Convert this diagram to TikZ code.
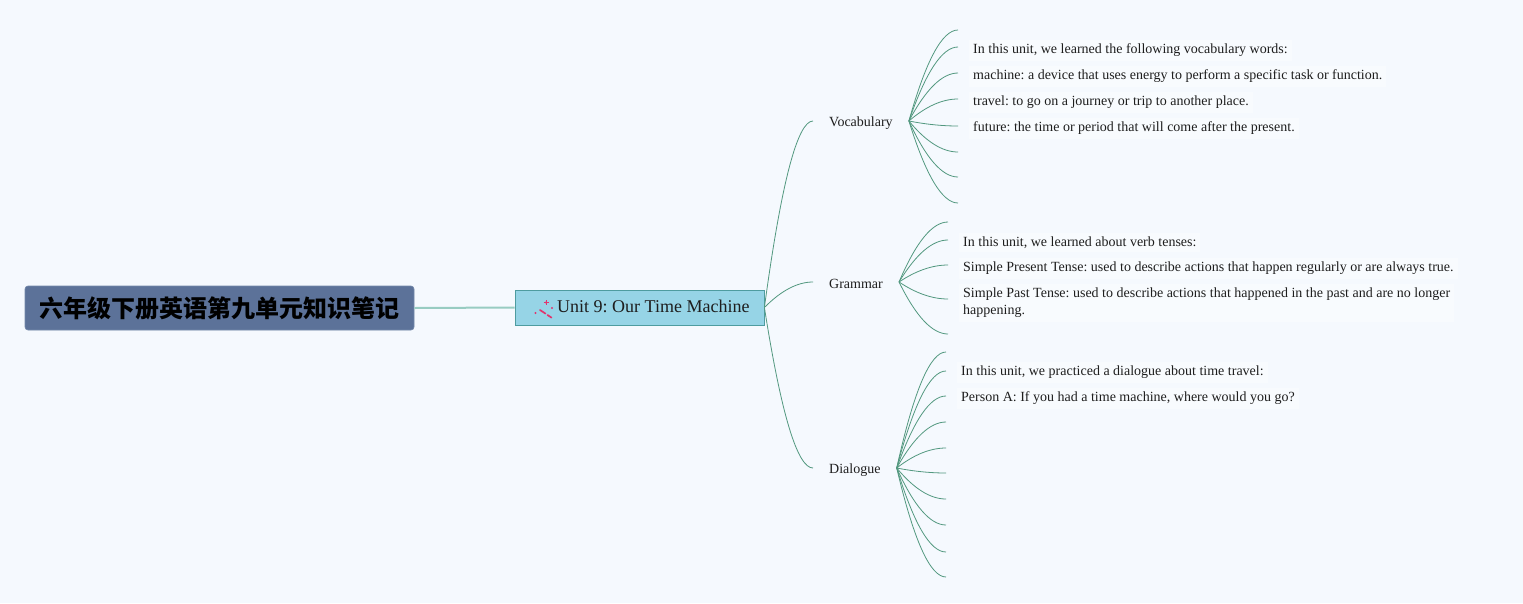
\documentclass[tikz,border=0pt]{standalone}
\usepackage{fontspec}
\setmainfont{Liberation Serif}
\newfontfamily\cjkfont{Noto Sans CJK SC}
\usetikzlibrary{calc}
\frenchspacing
\definecolor{bg}{HTML}{F5F9FE}
\definecolor{rootc}{HTML}{5C7299}
\definecolor{rootb}{HTML}{7489AA}
\definecolor{unitc}{HTML}{96D4E6}
\definecolor{unitb}{HTML}{4E9CA0}
\definecolor{trunkc}{HTML}{98CCC2}
\definecolor{linkc}{HTML}{52987F}
\definecolor{wandc}{HTML}{E0356E}
\definecolor{txt}{HTML}{1E1E1E}
\newcommand\mmlink[2]{%
  \draw[branch] let \p1=(#1), \p2=(#2) in
    (\p1) .. controls ({\x1+0.347*(\x2-\x1)},{\y1+0.667*(\y2-\y1)})
             and ({\x2-0.32*(\x2-\x1)},{\y2}) .. (\p2);}
\tikzset{
  rootbox/.style={fill=rootc, draw=rootb, line width=0.6pt, rounded corners=3pt,
    minimum width=389pt, minimum height=44pt, inner sep=0pt, text=black,
    font=\cjkfont\bfseries\fontsize{24}{24}\selectfont},
  unitbox/.style={fill=unitc, draw=unitb, line width=0.8pt,
    minimum width=249pt, minimum height=35pt, inner sep=0pt},
  unittext/.style={inner sep=0pt, text=txt, font=\fontsize{18}{18}\selectfont},
  lvtwo/.style={inner xsep=16pt, inner ysep=2pt, text=txt, font=\fontsize{14}{14}\selectfont},
  lvlabel/.style={inner sep=0pt, text=txt, font=\fontsize{14}{14}\selectfont},
  leaf/.style={inner xsep=4pt, inner ysep=4pt, text=txt, fill=white, fill opacity=0.35,
    text opacity=1, font=\fontsize{14}{17}\selectfont, align=left},
  trunk/.style={draw=trunkc, line width=2pt},
  branch/.style={draw=linkc, line width=0.8pt},
  wand/.style={draw=wandc, line width=1.7pt, line cap=round}
}
\begin{document}
\begin{tikzpicture}[x=1pt,y=-1pt]
\fill[bg] (0,0) rectangle (1523,603);
\useasboundingbox (0,0) rectangle (1523,603);

% root and unit
\node[rootbox] (root) at (219.5,308) {六年级下册英语第九单元知识笔记};
\node[unitbox] (unit) at (639.5,307.5) {};
\node[unittext, anchor=west] (unitlabel) at (557,306) {Unit 9: Our Time Machine};
\draw[trunk] (root.east) -- (unit.west);

% wand icon
\draw[wand] (540,310) -- (545.5,313.6);
\draw[wand] (547.5,315) -- (551.5,317.6);
\fill[wandc] (546,302.5) circle (1.1pt);
\fill[wandc] (552,308) circle (1.1pt);
\fill[wandc] (535.5,313) circle (1.1pt);
\draw[wandc, line width=0.5pt] (546,300) -- (546,305) (543.5,302.5) -- (548.5,302.5);

% level two (boxes carry the connectors, labels sit slightly lower)
\node[lvtwo, anchor=west, text opacity=0] (voc) at (813,121) {Vocabulary};
\node[lvtwo, anchor=west, text opacity=0] (gram) at (813,282) {Grammar};
\node[lvtwo, anchor=west, text opacity=0] (dia) at (813,468) {Dialogue};
\node[lvlabel, anchor=west] (voclabel) at (829,123) {Vocabulary};
\node[lvlabel, anchor=west] (gramlabel) at (829,284) {Grammar};
\node[lvlabel, anchor=west] (dialabel) at (829,470.5) {Dialogue};
\mmlink{unit.east}{voc.west}
\mmlink{unit.east}{gram.west}
\mmlink{unit.east}{dia.west}

% vocabulary leaves
\foreach \i/\y in {1/30,2/47,3/73,4/99,5/126,6/152,7/177,8/203}{
  \coordinate (v\i) at (958,\y);
  \mmlink{voc.east}{v\i}
}
\node[leaf, anchor=west] (vt2) at (969,50.5) {In this unit, we learned the following vocabulary words:};
\node[leaf, anchor=west] (vt3) at (969,76.5) {machine: a device that uses energy to perform a specific task or function.};
\node[leaf, anchor=west] (vt4) at (969,102.5) {travel: to go on a journey or trip to another place.};
\node[leaf, anchor=west] (vt5) at (969,128.5) {future: the time or period that will come after the present.};

% grammar leaves
\foreach \i/\y in {1/222,2/240,3/265,4/299,5/334}{
  \coordinate (g\i) at (948,\y);
  \mmlink{gram.east}{g\i}
}
\node[leaf, anchor=west] (gt2) at (959,242.5) {In this unit, we learned about verb tenses:};
\node[leaf, anchor=west] (gt3) at (959,268.5) {Simple Present Tense: used to describe actions that happen regularly or are always true.};
\node[leaf, anchor=west] (gt4) at (959,303) {Simple Past Tense: used to describe actions that happened in the past and are no longer\\happening.};

% dialogue leaves
\foreach \i/\y in {1/352,2/371,3/396,4/422,5/448,6/473,7/499,8/525,9/552,10/577}{
  \coordinate (d\i) at (946,\y);
  \mmlink{dia.east}{d\i}
}
\node[leaf, anchor=west] (dt2) at (957,372.5) {In this unit, we practiced a dialogue about time travel:};
\node[leaf, anchor=west] (dt3) at (957,398.5) {Person A: If you had a time machine, where would you go?};
\end{tikzpicture}
\end{document}
